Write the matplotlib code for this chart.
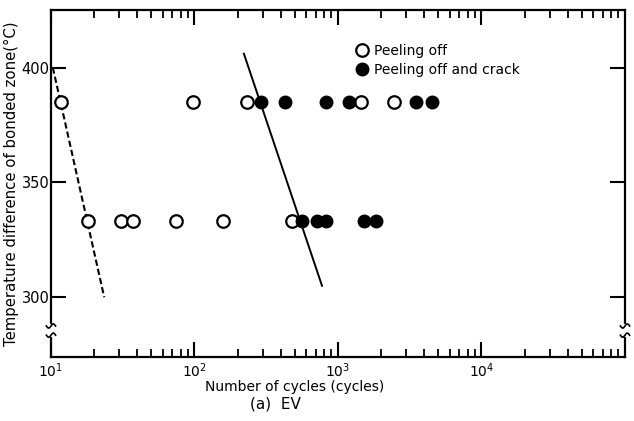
import numpy as np
import matplotlib
matplotlib.use('Agg')
from matplotlib import pyplot as plt
from matplotlib.ticker import LogLocator, NullFormatter, FixedLocator

# data
upper_temp = 385
lower_temp = 333

upper_open = [11.7, 97, 232, 1440, 2460]
upper_filled = [290, 428, 830, 1200, 3490, 4550]
lower_open = [18.1, 31, 37.3, 74, 158, 475]
lower_filled = [560, 713, 825, 1520, 1830]

dashed_n = [10.3, 23.5]
dashed_t = [400, 300]
solid_n = [221, 774]
solid_t = [406, 305]

y_ticks = [300, 350, 400]
x_ticks = [10, 100, 1000, 10000]
x_tick_labels = ['$10^1$', '$10^2$', '$10^3$', '$10^4$']

plt.rcParams['font.family'] = 'DejaVu Sans'

fig = plt.figure(figsize=(6.34, 4.21), dpi=100)
ax = fig.add_axes([0.0804, 0.152, 0.9054, 0.824])

ms = 9
mew = 1.6
ax.plot(upper_open, [upper_temp] * len(upper_open), 'o', mfc='white', mec='black',
        ms=ms, mew=mew, ls='none', label='Peeling off', zorder=3)
ax.plot(lower_open, [lower_temp] * len(lower_open), 'o', mfc='white', mec='black',
        ms=ms, mew=mew, ls='none', zorder=3)
ax.plot(upper_filled, [upper_temp] * len(upper_filled), 'o', color='black',
        ms=ms, ls='none', label='Peeling off and crack', zorder=4)
ax.plot(lower_filled, [lower_temp] * len(lower_filled), 'o', color='black',
        ms=ms, ls='none', zorder=4)

ax.plot(dashed_n, dashed_t, color='black', lw=1.5, ls=(0, (3, 1.5)), zorder=2)
ax.plot(solid_n, solid_t, color='black', lw=1.4, zorder=2)

ax.set_xscale('log')
ax.set_xlim(10, 1e5)
ax.set_ylim(274, 425)

ax.xaxis.set_major_locator(FixedLocator(x_ticks))
ax.set_xticklabels(x_tick_labels)
ax.xaxis.set_minor_locator(LogLocator(base=10, subs=np.arange(2, 10)))
ax.xaxis.set_minor_formatter(NullFormatter())
ax.set_yticks(y_ticks)

ax.tick_params(axis='x', which='major', direction='in', length=11, width=1.5,
               top=True, bottom=True, labelsize=10, pad=3)
ax.tick_params(axis='x', which='minor', direction='in', length=6, width=1.3,
               top=True, bottom=True)
ax.tick_params(axis='y', which='major', direction='in', length=11, width=1.5,
               left=True, right=True, labelsize=10.5, pad=1)
for s in ax.spines.values():
    s.set_linewidth(1.6)

# axis break marks on both sides
yb0, yb1 = 283.5, 287.5
for xs in (0, 1):
    ax.plot([xs, xs], [yb0, yb1], color='white', lw=3, transform=ax.get_yaxis_transform(),
            clip_on=False, zorder=5)
    for yb in (yb0, yb1):
        tt = np.linspace(-1, 1, 20)
        ax.plot(xs + 0.008 * tt, yb + 0.9 * np.sin(tt * np.pi),
                color='black', lw=1.2, transform=ax.get_yaxis_transform(),
                clip_on=False, zorder=6)

ax.set_xlabel('Number of cycles (cycles)', fontsize=10, labelpad=1)
ax.xaxis.set_label_coords(0.425, -0.065)
ax.set_ylabel('Temperature difference of bonded zone(\u00b0C)', fontsize=10.7, labelpad=2)
fig.text(0.434, 0.03, '(a)  EV', fontsize=11, ha='center')

ax.legend(loc='upper left', bbox_to_anchor=(0.52, 0.918), frameon=False,
          handlelength=1.0, handletextpad=0.4, fontsize=10, labelspacing=0.35,
          borderaxespad=0)

fig.savefig('out.png', dpi=100)
